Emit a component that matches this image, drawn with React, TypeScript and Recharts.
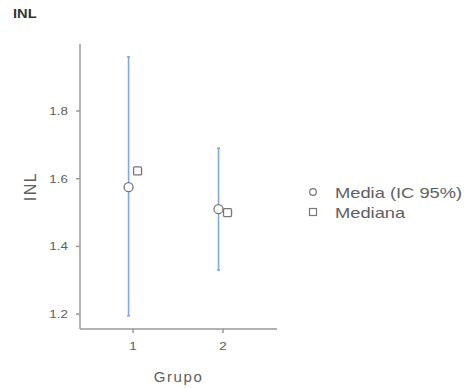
import {
  ComposedChart,
  Scatter,
  ErrorBar,
  XAxis,
  YAxis,
  Label,
} from "recharts";

// values
const groups = [1, 2];
const means = [1.575, 1.51];
const ciLow = [1.195, 1.33];
const ciHigh = [1.96, 1.69];
const medians = [1.623, 1.5];
const yTicks = [1.2, 1.4, 1.6, 1.8];
const legendLabels = ["Media (IC 95%)", "Mediana"];

const DODGE = 0.05;

const meanData = groups.map((g, i) => ({
  x: g - DODGE,
  y: means[i],
  err: [means[i] - ciLow[i], ciHigh[i] - means[i]],
}));

const medianData = groups.map((g, i) => ({
  x: g + DODGE,
  y: medians[i],
}));

const AXIS = "#9a9a9a";
const TEXT = "#5e5e5e";
const FONT = "'Liberation Sans', Arial, sans-serif";
// the source picture is a bit stretched sideways, so text is widened to match
const SX = 1.22;

const CircleShape = (props: any) => (
  <circle cx={props.cx} cy={props.cy} r={4.5} fill="#fff" stroke="#777" strokeWidth={1.3} />
);

const SquareShape = (props: any) => (
  <rect
    x={props.cx - 4}
    y={props.cy - 4}
    width={8}
    height={8}
    rx={1}
    fill="#fff"
    stroke="#777"
    strokeWidth={1.3}
  />
);

const XTick = (props: any) => {
  const { x, y, payload } = props;
  return (
    <g transform={`translate(${x},${y}) scale(${SX},1)`}>
      <text x={0} y={0} dy="0.71em" textAnchor="middle" fill={TEXT} fontSize={11} fontFamily={FONT}>
        {payload.value}
      </text>
    </g>
  );
};

const YTick = (props: any) => {
  const { x, y, payload } = props;
  return (
    <g transform={`translate(${x},${y}) scale(${SX},1)`}>
      <text x={0} y={0} dy="0.355em" textAnchor="end" fill={TEXT} fontSize={11} fontFamily={FONT}>
        {Number(payload.value).toFixed(1)}
      </text>
    </g>
  );
};

const stretched = {
  display: "inline-block",
  transform: `scaleX(${SX})`,
  transformOrigin: "left center",
  whiteSpace: "nowrap" as const,
};

const LegendBox = () => (
  <div style={{ fontFamily: FONT, fontSize: 15, color: TEXT }}>
    <div style={{ position: "absolute", left: 0, top: 0, height: 20, display: "flex", alignItems: "center" }}>
      <svg width={14} height={14} style={{ marginRight: 15 }}>
        <circle cx={7} cy={7} r={3.3} fill="#fff" stroke="#777" strokeWidth={1.2} />
      </svg>
      <span style={stretched}>{legendLabels[0]}</span>
    </div>
    <div style={{ position: "absolute", left: 0, top: 20, height: 20, display: "flex", alignItems: "center" }}>
      <svg width={14} height={14} style={{ marginRight: 15 }}>
        <rect x={3.5} y={3.5} width={7} height={7} fill="#fff" stroke="#777" strokeWidth={1.2} />
      </svg>
      <span style={stretched}>{legendLabels[1]}</span>
    </div>
  </div>
);

export default function App() {
  return (
    <div style={{ position: "absolute", left: 0, top: 0, width: 467, height: 388, background: "#fff" }}>
      <div
        style={{
          position: "absolute",
          left: 13,
          top: 7,
          fontFamily: FONT,
          fontWeight: 700,
          fontSize: 12,
          color: "#333",
          ...stretched,
        }}
      >
        INL
      </div>
      <ComposedChart
        width={467}
        height={388}
        margin={{ top: 44, right: 190, bottom: 0, left: 0 }}
      >
        <XAxis
          type="number"
          dataKey="x"
          domain={[0.41, 2.6]}
          ticks={groups}
          allowDataOverflow
          stroke={AXIS}
          strokeWidth={1.5}
          tickSize={4}
          tickMargin={9}
          height={59}
          tick={XTick}
        >
          <Label
            value="Grupo"
            position="insideBottom"
            offset={6}
            style={{ fill: TEXT, fontSize: 15, fontFamily: FONT, letterSpacing: 1.6 }}
          />
        </XAxis>
        <YAxis
          type="number"
          dataKey="y"
          domain={[1.156, 1.998]}
          ticks={yTicks}
          allowDataOverflow
          stroke={AXIS}
          strokeWidth={1.5}
          tickSize={4}
          tickMargin={8}
          width={80}
          tick={YTick}
        >
          <Label
            value="INL"
            angle={-90}
            position="insideLeft"
            offset={30}
            style={{ fill: TEXT, fontSize: 16, fontFamily: FONT, textAnchor: "middle", letterSpacing: 1.5 }}
          />
        </YAxis>
        <Scatter
          name={legendLabels[0]}
          data={meanData}
          shape={CircleShape}
          isAnimationActive={false}
        >
          <ErrorBar dataKey="err" direction="y" width={1.5} stroke="#7fa8e6" strokeWidth={1.6} />
        </Scatter>
        <Scatter
          name={legendLabels[1]}
          data={medianData}
          shape={SquareShape}
          isAnimationActive={false}
        />
      </ComposedChart>
      <div style={{ position: "absolute", left: 306, top: 182 }}>
        <LegendBox />
      </div>
    </div>
  );
}
